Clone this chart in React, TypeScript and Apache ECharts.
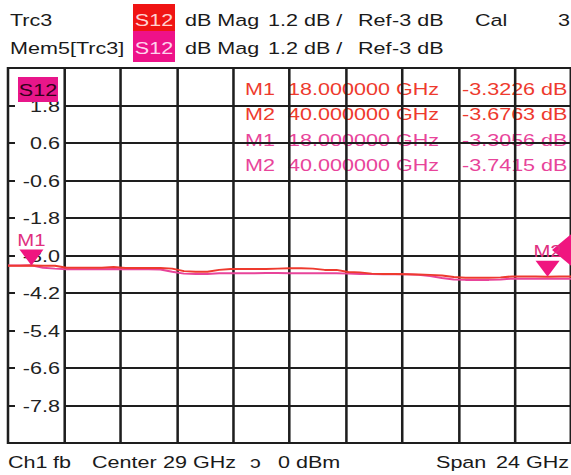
import React, { useEffect, useRef } from "react";
import * as echarts from "echarts";

// ---- data ----
const freqGHz = [
  17.0, 17.5, 18.0, 18.5, 19.0, 19.5, 20.0, 20.5, 21.0, 21.5, 22.0, 22.5, 23.0, 23.5,
  24.0, 24.5, 25.0, 25.5, 26.0, 26.5, 27.0, 27.5, 28.0, 28.5, 29.0, 29.5, 30.0, 30.5,
  31.0, 31.5, 32.0, 32.5, 33.0, 33.5, 34.0, 34.5, 35.0, 35.5, 36.0, 36.5, 37.0, 37.5,
  38.0, 38.5, 39.0, 39.5, 40.0, 40.5, 41.0,
];
const trc3dB = [
  -3.33, -3.33, -3.32, -3.33, -3.33, -3.39, -3.39, -3.39, -3.39, -3.37, -3.40, -3.40, -3.40, -3.40,
  -3.42, -3.50, -3.52, -3.52, -3.46, -3.43, -3.43, -3.43, -3.43, -3.42, -3.41, -3.41, -3.42, -3.46,
  -3.46, -3.53, -3.54, -3.58, -3.59, -3.59, -3.60, -3.61, -3.62, -3.64, -3.69, -3.71, -3.71, -3.71,
  -3.70, -3.67, -3.67, -3.67, -3.68, -3.67, -3.67,
];
const mem5dB = [
  -3.32, -3.32, -3.31, -3.39, -3.42, -3.44, -3.44, -3.44, -3.44, -3.43, -3.44, -3.44, -3.44, -3.45,
  -3.52, -3.58, -3.59, -3.59, -3.57, -3.57, -3.57, -3.57, -3.56, -3.56, -3.57, -3.57, -3.57, -3.57,
  -3.57, -3.58, -3.59, -3.59, -3.60, -3.60, -3.60, -3.62, -3.66, -3.72, -3.77, -3.78, -3.78, -3.78,
  -3.77, -3.74, -3.74, -3.74, -3.74, -3.74, -3.74,
];
const markerNames = ["M1", "M2"];
const markerFreqs = [18, 40];
const trc3Markers = [-3.3226, -3.6763];
const mem5Markers = [-3.3056, -3.7415];
const yTickValues = [1.8, 0.6, -0.6, -1.8, -3.0, -4.2, -5.4, -6.6, -7.8];
const yTickLabels = ["1.8", "0.6", "-0.6", "-1.8", "-3.0", "-4.2", "-5.4", "-6.6", "-7.8"];
const freqMin = 17;
const freqMax = 41;
const dbMin = -9;
const dbMax = 3;

// ---- layout (screenshot is stretched horizontally) ----
const S = 571 / 450;
const px = (x: number) => x / S;
const FONT = '"Liberation Sans", Arial, sans-serif';
const RED = "#ee3a2e";
const PINK = "#e8449a";
const GRIDC = "#1e1e1e";

function txt(text: string, refX: number, y: number, fill = "#1a1a1a", extra: any = {}, z = 0) {
  return {
    type: "text",
    x: px(refX),
    y,
    z,
    style: { text, fill, font: `17px ${FONT}`, verticalAlign: "middle", align: "left", ...extra },
  };
}

export default function App() {
  const ref = useRef<HTMLDivElement>(null);
  useEffect(() => {
    if (!ref.current) return;
    const chart = echarts.init(ref.current, undefined, { renderer: "svg" });
    const L = px(8);
    const D = px(56.4);
    const table: any[] = [];
    const rowsY = [88.5, 114, 140, 164.5];
    const rows = [
      [markerNames[0], markerFreqs[0], trc3Markers[0], RED],
      [markerNames[1], markerFreqs[1], trc3Markers[1], RED],
      [markerNames[0], markerFreqs[0], mem5Markers[0], PINK],
      [markerNames[1], markerFreqs[1], mem5Markers[1], PINK],
    ] as any[];
    rows.forEach((r, i) => {
      table.push(txt(r[0], 245, rowsY[i], r[3]));
      table.push(txt(`${r[1].toFixed(6)} GHz`, 288, rowsY[i], r[3]));
      table.push(txt(`${r[2].toFixed(4)} dB`, 462, rowsY[i], r[3]));
    });
    const option: any = {
      animation: false,
      grid: [
        { left: L + D, top: 68, width: 9 * D, height: 375, show: false },
        { left: L, top: 68, width: 10 * D, height: 375, show: true, borderColor: GRIDC, borderWidth: 2, backgroundColor: "transparent" },
      ],
      xAxis: [
        {
          gridIndex: 0, type: "value", min: 0, max: 9, interval: 1, z: 1,
          axisLine: { show: false }, axisTick: { show: false }, axisLabel: { show: false },
          splitLine: { show: true, lineStyle: { color: GRIDC, width: 2 } },
        },
        { gridIndex: 1, type: "value", min: freqMin, max: freqMax, show: false, splitLine: { show: false } },
      ],
      yAxis: [
        {
          gridIndex: 0, type: "value", min: 0, max: 10, interval: 1, z: 1,
          axisLine: { show: false }, axisTick: { show: false }, axisLabel: { show: false },
          splitLine: { show: true, lineStyle: { color: GRIDC, width: 2 } },
        },
        {
          gridIndex: 1, type: "value", min: dbMin, max: dbMax, position: "left",
          axisLine: { show: false },
          splitLine: { show: false },
          axisTick: { show: true, inside: true, length: 5.5, customValues: yTickValues, lineStyle: { color: GRIDC, width: 2 } },
          axisLabel: {
            show: true, inside: true, align: "right", margin: px(60) - L,
            customValues: yTickValues,
            formatter: (v: number) => {
              const i = yTickValues.findIndex((t) => Math.abs(t - v) < 1e-6);
              return i >= 0 ? yTickLabels[i] : "";
            },
            color: "#222", fontSize: 17, fontFamily: FONT,
          },
        },
      ],
      series: [
        {
          type: "line", name: "Mem5[Trc3]", xAxisIndex: 1, yAxisIndex: 1, z: 2,
          data: freqGHz.map((f, i) => [f, mem5dB[i]]),
          showSymbol: false, lineStyle: { color: PINK, width: 2 },
          markPoint: {
            data: [
              {
                coord: [markerFreqs[1], mem5Markers[1]], symbol: "triangle", symbolRotate: 90,
                symbolSize: [40, px(24)], symbolOffset: [px(16.5), -28.7],
                itemStyle: { color: "#f0157f" }, label: { show: false },
              },
            ],
          },
        },
        {
          type: "line", name: "Trc3", xAxisIndex: 1, yAxisIndex: 1, z: 3,
          data: freqGHz.map((f, i) => [f, trc3dB[i]]),
          showSymbol: false, lineStyle: { color: RED, width: 2 },
          markPoint: {
            symbol: "triangle", symbolRotate: 180,
            itemStyle: { color: "#f0157f" },
            label: { show: true, position: "top", distance: 1, color: "#e0307f", fontSize: 16, fontFamily: FONT },
            data: markerNames.map((n, i) => ({
              name: n, coord: [markerFreqs[i], trc3Markers[i]],
              symbolSize: [px(24), 16], symbolOffset: [0, -8],
              label: { formatter: n },
            })),
          },
        },
      ],
      graphic: [
        // header
        txt("Trc3", 10, 19.5),
        { type: "rect", z: 4, shape: { x: px(133), y: 4, width: px(175) - px(133), height: 27 }, style: { fill: "#f01414" } },
        txt("S12", 154, 19.5, "#ffd2d2", { align: "center" }, 6),
        txt("dB Mag", 185, 19.5), txt("1.2 dB /", 268, 19.5), txt("Ref", 358, 19.5), txt("-3 dB", 392, 19.5),
        txt("Cal", 475, 19.5), txt("3", 558, 19.5),
        txt("Mem5[Trc3]", 10, 47.5),
        { type: "rect", z: 4, shape: { x: px(133), y: 31, width: px(175) - px(133), height: 31 }, style: { fill: "#ee1289" } },
        txt("S12", 154, 47.5, "#ffd2ee", { align: "center" }, 6),
        txt("dB Mag", 185, 47.5), txt("1.2 dB /", 268, 47.5), txt("Ref", 358, 47.5), txt("-3 dB", 392, 47.5),
        // S12 tag in plot
        { type: "rect", z: 5, shape: { x: px(18), y: 77, width: px(58) - px(18), height: 25 }, style: { fill: "#e8168a" } },
        txt("S12", 38, 90, "#33001a", { align: "center" }, 6),
        // marker table
        ...table,
        // footer
        txt("Ch1", 8, 462), txt("fb", 53, 462), txt("Center", 92, 462), txt("29 GHz", 163, 462),
        txt("ɔ", 250, 462), txt("0 dBm", 278, 462), txt("Span", 436, 462), txt("24 GHz", 496, 462),
      ],
    };
    chart.setOption(option);
    return () => chart.dispose();
  }, []);
  return (
    <div style={{ position: "absolute", left: 0, top: 0, width: 571, height: 475, overflow: "hidden", background: "#fff" }}>
      <div ref={ref} style={{ width: 450, height: 475, transform: `scaleX(${S})`, transformOrigin: "0 0" }} />
    </div>
  );
}
